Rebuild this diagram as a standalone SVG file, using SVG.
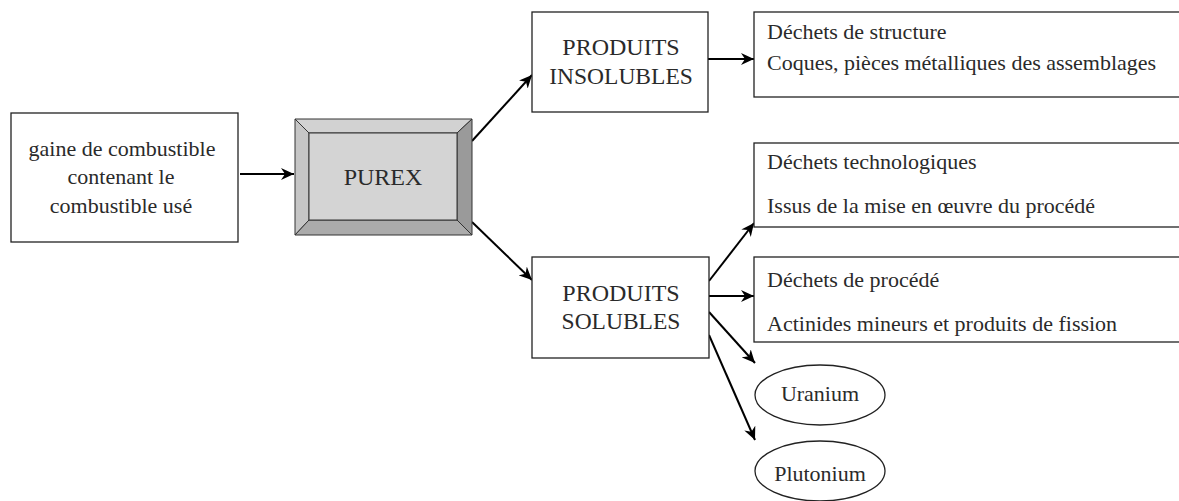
<svg xmlns="http://www.w3.org/2000/svg" width="1179" height="501" viewBox="0 0 1179 501">
<style>
.box{fill:#fff;stroke:#222;stroke-width:1.3}
.t{font-family:'Liberation Serif',serif;font-size:22px;fill:#2a2a2a}
.c{font-family:'Liberation Serif',serif;font-size:24px;fill:#2a2a2a;text-anchor:middle}
.c2{font-family:'Liberation Serif',serif;font-size:23.5px;fill:#2a2a2a;text-anchor:middle}
.m{text-anchor:middle}
.ar{fill:none;stroke:#000;stroke-width:2;marker-end:url(#ah)}
.bev{stroke:#333;stroke-width:1}
</style>
<defs>
<marker id="ah" markerUnits="userSpaceOnUse" markerWidth="14" markerHeight="12" viewBox="0 0 14 12" refX="13" refY="6" orient="auto">
<path d="M0,0 L13,6 L0,12 L4,6 z" fill="#000"/>
</marker>
</defs>
<rect width="1179" height="501" fill="#fff"/>
<g id="connectors">
<line class="ar" x1="240" y1="174" x2="294" y2="174"/>
<line class="ar" x1="472" y1="141" x2="532" y2="75"/>
<line class="ar" x1="472" y1="222" x2="532" y2="280"/>
<line class="ar" x1="708" y1="59" x2="754" y2="59"/>
<line class="ar" x1="709" y1="281" x2="754" y2="223"/>
<line class="ar" x1="709" y1="296" x2="754" y2="296"/>
<line class="ar" x1="709" y1="312" x2="755" y2="363"/>
<line class="ar" x1="709" y1="335" x2="755" y2="440"/>
</g>
<g id="input">
<rect class="box" x="11" y="113" width="227" height="129"/>
<text class="t m" x="122" y="156">gaine de combustible</text>
<text class="t m" x="121" y="184">contenant le</text>
<text class="t m" x="121" y="213">combustible usé</text>
</g>
<g id="purex">
<polygon class="bev" points="295,119 472,119 457,133 309,133" fill="#d2d2d2"/>
<polygon class="bev" points="295,119 309,133 309,220 295,235" fill="#c6c6c6"/>
<polygon class="bev" points="472,119 472,235 457,220 457,133" fill="#9a9a9a"/>
<polygon class="bev" points="295,235 309,220 457,220 472,235" fill="#ababab"/>
<rect class="bev" x="309" y="133" width="148" height="87" fill="#d4d4d4"/>
<text class="c" x="383" y="185">PUREX</text>
</g>
<g id="insolubles">
<rect class="box" x="532" y="12" width="176" height="100"/>
<text class="c" x="621" y="55">PRODUITS</text>
<text class="c2" x="621" y="84">INSOLUBLES</text>
</g>
<g id="solubles">
<rect class="box" x="532" y="257" width="177" height="101"/>
<text class="c" x="621" y="301">PRODUITS</text>
<text class="c2" x="621" y="329">SOLUBLES</text>
</g>
<g id="structure">
<rect class="box" x="754" y="12" width="440" height="85"/>
<text class="t" x="767" y="39">Déchets de structure</text>
<text class="t" x="767" y="70">Coques, pièces métalliques des assemblages</text>
</g>
<g id="technologiques">
<rect class="box" x="754" y="143" width="440" height="84"/>
<text class="t" x="767" y="169">Déchets technologiques</text>
<text class="t" x="767" y="213">Issus de la mise en œuvre du procédé</text>
</g>
<g id="procede">
<rect class="box" x="754" y="257" width="440" height="85"/>
<text class="t" x="767" y="287">Déchets de procédé</text>
<text class="t" x="767" y="331">Actinides mineurs et produits de fission</text>
</g>
<g id="uranium">
<ellipse class="box" cx="820" cy="395" rx="65" ry="30"/>
<text class="t m" x="820" y="401">Uranium</text>
</g>
<g id="plutonium">
<ellipse class="box" cx="820" cy="471" rx="65" ry="30"/>
<text class="t m" x="820" y="481">Plutonium</text>
</g>
</svg>
